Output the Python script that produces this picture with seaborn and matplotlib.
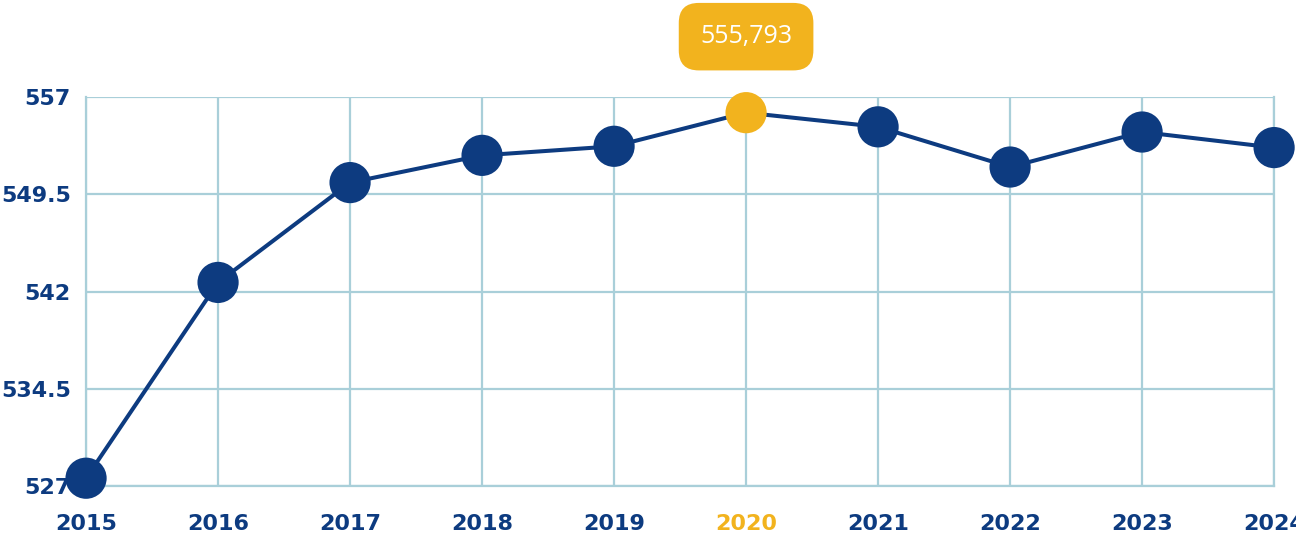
import matplotlib
matplotlib.use("Agg")
import matplotlib.pyplot as plt
import seaborn as sns
import pandas as pd

years = [2015, 2016, 2017, 2018, 2019, 2020, 2021, 2022, 2023, 2024]
values = [527.6, 542.7, 550.4, 552.5, 553.2, 555.793, 554.7, 551.6, 554.3, 553.1]
y_ticks = [527, 534.5, 542, 549.5, 557]
y_labels = ["527", "534.5", "542", "549.5", "557"]
highlight_year = 2020
highlight_label = "555,793"

navy = "#0d3b80"
gold = "#f2b31e"
grid_c = "#a9cfd9"

df = pd.DataFrame({"year": years, "value": values})

sns.set_style("white")
plt.rcParams['font.family'] = ['DejaVu Sans']

fig = plt.figure(figsize=(12.96, 5.36), dpi=100)
ax = fig.add_axes([0.0664, 0.0933, 0.9167, 0.7257])

sns.lineplot(data=df, x="year", y="value", color=navy, linewidth=2.9, ax=ax, zorder=3)
others = df[df["year"] != highlight_year]
hl = df[df["year"] == highlight_year]
sns.scatterplot(data=others, x="year", y="value", color=navy, s=880, edgecolor="none",
                ax=ax, zorder=4, clip_on=False)
sns.scatterplot(data=hl, x="year", y="value", color=gold, s=880, edgecolor="none",
                ax=ax, zorder=4, clip_on=False)

ax.set_xlim(years[0], years[-1])
ax.set_ylim(y_ticks[0], y_ticks[-1])
ax.set_xticks(years)
ax.set_xticklabels([str(y) for y in years])
ax.set_yticks(y_ticks)
ax.set_yticklabels(y_labels)
ax.set_xlabel("")
ax.set_ylabel("")

ax.grid(True, color=grid_c, linewidth=1.6)
ax.set_axisbelow(True)
for s in ax.spines.values():
    s.set_color(grid_c)
    s.set_linewidth(1.6)
    s.set_zorder(0.5)
ax.spines["top"].set_visible(False)

ax.tick_params(axis="x", length=0, pad=20, labelsize=16, labelcolor=navy)
ax.tick_params(axis="y", length=0, pad=11, labelsize=16, labelcolor=navy)
for lbl in ax.get_xticklabels() + ax.get_yticklabels():
    lbl.set_fontweight("bold")
for lbl, y in zip(ax.get_xticklabels(), years):
    if y == highlight_year:
        lbl.set_color(gold)

hv = hl["value"].iloc[0]
ax.annotate(highlight_label, xy=(highlight_year, hv), xytext=(0, 76),
            textcoords="offset pixels", ha="center", va="center",
            fontsize=18, color="white", family=["Open Sans", "DejaVu Sans"],
            bbox=dict(boxstyle="round,pad=0.85,rounding_size=0.8", fc=gold, ec="none"),
            annotation_clip=False)

fig.savefig("out.png", dpi=100)
